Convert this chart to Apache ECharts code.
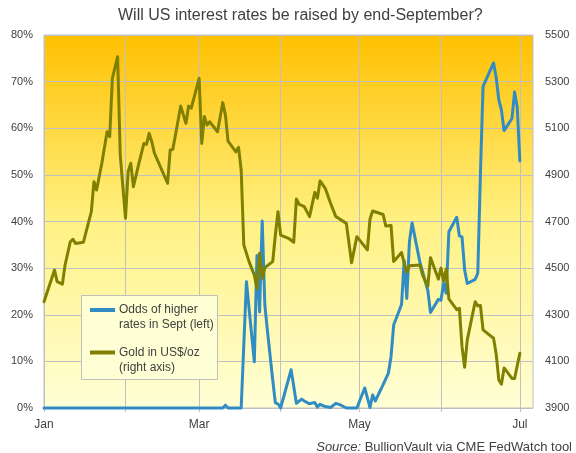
<!DOCTYPE html>
<html><head><meta charset="utf-8">
<script src="https://cdn.jsdelivr.net/npm/echarts@6/dist/echarts.min.js"></script>
<style>html,body{margin:0;padding:0;background:#fff}#c{width:576px;height:453px}</style>
</head><body><div id="c"></div>
<script>
// ---- data ----
const goldDates = ['2026-01-01','2026-01-05','2026-01-06','2026-01-08','2026-01-09','2026-01-11','2026-01-12','2026-01-13','2026-01-16','2026-01-19','2026-01-20','2026-01-21','2026-01-23','2026-01-25','2026-01-26','2026-01-27','2026-01-29','2026-01-30',
'2026-02-01','2026-02-02','2026-02-03','2026-02-04','2026-02-06','2026-02-08','2026-02-09','2026-02-10','2026-02-11','2026-02-12','2026-02-17','2026-02-18','2026-02-19','2026-02-20','2026-02-22','2026-02-24','2026-02-25','2026-02-26','2026-02-27',
'2026-03-01','2026-03-02','2026-03-03','2026-03-04','2026-03-05','2026-03-08','2026-03-10','2026-03-11','2026-03-12','2026-03-15','2026-03-16','2026-03-17','2026-03-18','2026-03-20','2026-03-22','2026-03-23','2026-03-24','2026-03-25','2026-03-26','2026-03-29','2026-03-30','2026-03-31',
'2026-04-01','2026-04-04','2026-04-06','2026-04-07','2026-04-08','2026-04-10','2026-04-12','2026-04-14','2026-04-15','2026-04-16','2026-04-18','2026-04-20','2026-04-22','2026-04-26','2026-04-28','2026-04-30',
'2026-05-04','2026-05-05','2026-05-06','2026-05-10','2026-05-11','2026-05-13','2026-05-14','2026-05-17','2026-05-18','2026-05-19','2026-05-20','2026-05-24','2026-05-25','2026-05-27','2026-05-28','2026-05-31',
'2026-06-01','2026-06-02','2026-06-03','2026-06-04','2026-06-07','2026-06-08','2026-06-09','2026-06-10','2026-06-11','2026-06-14','2026-06-15','2026-06-16','2026-06-17','2026-06-21','2026-06-22','2026-06-23','2026-06-24','2026-06-25','2026-06-28','2026-06-29','2026-07-01'];
const goldValues = [4356,4492,4442,4431,4513,4613,4624,4606,4611,4742,4871,4835,4950,5085,5064,5314,5407,4985,
4714,4914,4950,4849,4945,5035,5031,5078,5042,4993,4864,5007,5010,5071,5195,5121,5195,5186,5228,
5314,5035,5150,5114,5128,5085,5210,5157,5045,4999,5018,4921,4599,4528,4470,4413,4564,4456,4502,4528,4642,4742,
4642,4628,4611,4797,4774,4764,4721,4825,4800,4874,4842,4778,4721,4692,4523,4635,
4578,4711,4745,4730,4681,4683,4528,4567,4521,4482,4510,4513,4470,4423,4545,4453,
4500,4445,4496,4368,4322,4328,4163,4075,4192,4356,4338,4340,4235,4199,4131,4020,4002,4072,4027,4027,4135];

const oddsDates = ['2026-01-01','2026-03-10','2026-03-11','2026-03-12','2026-03-17','2026-03-19','2026-03-22','2026-03-23','2026-03-24','2026-03-25','2026-03-26','2026-03-27','2026-03-29','2026-03-30','2026-03-31',
'2026-04-01','2026-04-05','2026-04-07','2026-04-09','2026-04-10','2026-04-12','2026-04-14','2026-04-15','2026-04-16','2026-04-18','2026-04-20','2026-04-22','2026-04-24','2026-04-26','2026-04-30',
'2026-05-03','2026-05-05','2026-05-06','2026-05-07','2026-05-10','2026-05-12','2026-05-13','2026-05-14','2026-05-17','2026-05-18','2026-05-19','2026-05-20','2026-05-21','2026-05-24','2026-05-27','2026-05-28','2026-05-31',
'2026-06-01','2026-06-02','2026-06-03','2026-06-04','2026-06-07','2026-06-08','2026-06-09','2026-06-10','2026-06-11','2026-06-14','2026-06-15','2026-06-16','2026-06-17','2026-06-21','2026-06-22','2026-06-23','2026-06-24','2026-06-25','2026-06-28','2026-06-29','2026-06-30','2026-07-01'];
const oddsValues = [0,0,0.6,0,0,27.1,9.9,32.7,20.6,40.1,22.1,16.5,6.0,1.1,0.9,
0,8.2,1.0,1.9,1.5,0.9,1.2,0.2,0.8,0.3,0.1,1.0,0.6,0,0,
4.3,0.1,2.8,1.5,5.0,7.5,11.0,17.8,22.2,31.6,23.5,35.7,39.7,31.2,25.2,20.5,23.3,
23.1,26.7,24.6,37.8,40.9,36.9,36.7,29.6,26.7,27.6,28.9,50.2,69.0,74.0,70.9,66.1,63.9,59.5,62.1,67.8,64.5,53.0];

const monthTicks = ['2026-01-01','2026-02-01','2026-03-01','2026-04-01','2026-05-01','2026-06-01','2026-07-01'];
const monthLabelTicks = ['2026-01-01','2026-03-01','2026-05-01','2026-07-01'];
const monthNames = ['Jan','Feb','Mar','Apr','May','Jun','Jul','Aug','Sep','Oct','Nov','Dec'];
const leftTicks = [0,10,20,30,40,50,60,70,80];
const rightTicks = [3900,4100,4300,4500,4700,4900,5100,5300,5500];
const xStart = '2026-01-01', xEnd = '2026-07-06';

const seriesNames = ['Odds of higher\nrates in Sept (left)', 'Gold in US$/oz\n(right axis)'];
const seriesColors = ['#318CC4', '#808000'];
const titleText = 'Will US interest rates be raised by end-September?';

// ---- chart ----
function ts(s){const p=s.split('-');return Date.UTC(+p[0],+p[1]-1,+p[2]);}
const FONT = 'Arial, "Liberation Sans", sans-serif';
const TXT = '#404040';
const chart = echarts.init(document.getElementById('c'), null, {renderer:'canvas'});

// legend box (drawn as graphic so the key line sits on the first text line)
const legendGraphic = [{
  type:'rect', z:100, shape:{x:81.5,y:295.5,width:136,height:84},
  style:{fill:'rgba(255,255,215,0.94)',stroke:'#BFBFBF',lineWidth:1}
}];
seriesNames.forEach((n,i)=>{
  const yc = 310 + i*42.5;
  legendGraphic.push({type:'line', z:101, shape:{x1:90,y1:yc,x2:115,y2:yc},
    style:{stroke:seriesColors[i],lineWidth:4}});
  legendGraphic.push({type:'text', z:101, x:119, y:yc-7.5,
    style:{text:n,fontFamily:FONT,fontSize:12,lineHeight:15,fill:TXT,verticalAlign:'top',align:'left'}});
});

chart.setOption({
  animation:false,
  backgroundColor:'#ffffff',
  title:[{
    text:titleText, left:118, top:8, padding:0,
    textStyle:{fontFamily:FONT,fontSize:16,fontWeight:'normal',color:TXT}
  },{
    text:'{i|Source:} BullionVault via CME FedWatch tool', right:4, top:441, padding:0,
    textStyle:{fontFamily:FONT,fontSize:13,fontWeight:'normal',color:TXT,
      rich:{i:{fontFamily:FONT,fontSize:13,fontStyle:'italic',color:TXT}}}
  }],
  grid:{left:44,right:43,top:35,bottom:45,show:true,borderColor:'#BFBFBF',borderWidth:1,
    backgroundColor:{type:'linear',x:0,y:0,x2:0,y2:1,colorStops:[
      {offset:0,color:'#FFC000'},{offset:0.5,color:'#FFF183'},{offset:1,color:'#FFFFD6'}]}},
  graphic:legendGraphic,
  xAxis:{
    type:'value', min:ts(xStart), max:ts(xEnd),
    axisLine:{show:false},
    axisTick:{show:true,length:4,customValues:monthTicks.map(ts),lineStyle:{color:'#BFBFBF'}},
    splitLine:{show:true,lineStyle:{color:'#C0C0C0',width:1}},
    axisLabel:{customValues:monthLabelTicks.map(ts),margin:11,fontFamily:FONT,fontSize:12,color:TXT,
      formatter:function(v){return monthNames[new Date(v).getUTCMonth()];}}
  },
  yAxis:[{
    type:'value', min:leftTicks[0], max:leftTicks[leftTicks.length-1], interval:10, position:'left',
    axisLine:{show:false}, axisTick:{show:false},
    splitLine:{show:true,lineStyle:{color:'#C0C0C0',width:1}},
    axisLabel:{customValues:leftTicks,formatter:'{value}%',margin:11,fontFamily:FONT,fontSize:11,color:TXT}
  },{
    type:'value', min:rightTicks[0], max:rightTicks[rightTicks.length-1], position:'right',
    axisLine:{show:false}, axisTick:{show:false}, splitLine:{show:false},
    axisLabel:{customValues:rightTicks,margin:12,fontFamily:FONT,fontSize:11,color:TXT,
      formatter:function(v){return String(v);}}
  }],
  series:[{
    name:seriesNames[0], type:'line', yAxisIndex:0, showSymbol:false, clip:false, z:2,
    color:seriesColors[0], lineStyle:{width:3,color:seriesColors[0],join:'round',cap:'round'},
    data:oddsDates.map((d,i)=>[ts(d),oddsValues[i]])
  },{
    name:seriesNames[1], type:'line', yAxisIndex:1, showSymbol:false, z:3,
    color:seriesColors[1], lineStyle:{width:3,color:seriesColors[1],join:'round',cap:'round'},
    data:goldDates.map((d,i)=>[ts(d),goldValues[i]])
  }]
});
</script></body></html>
